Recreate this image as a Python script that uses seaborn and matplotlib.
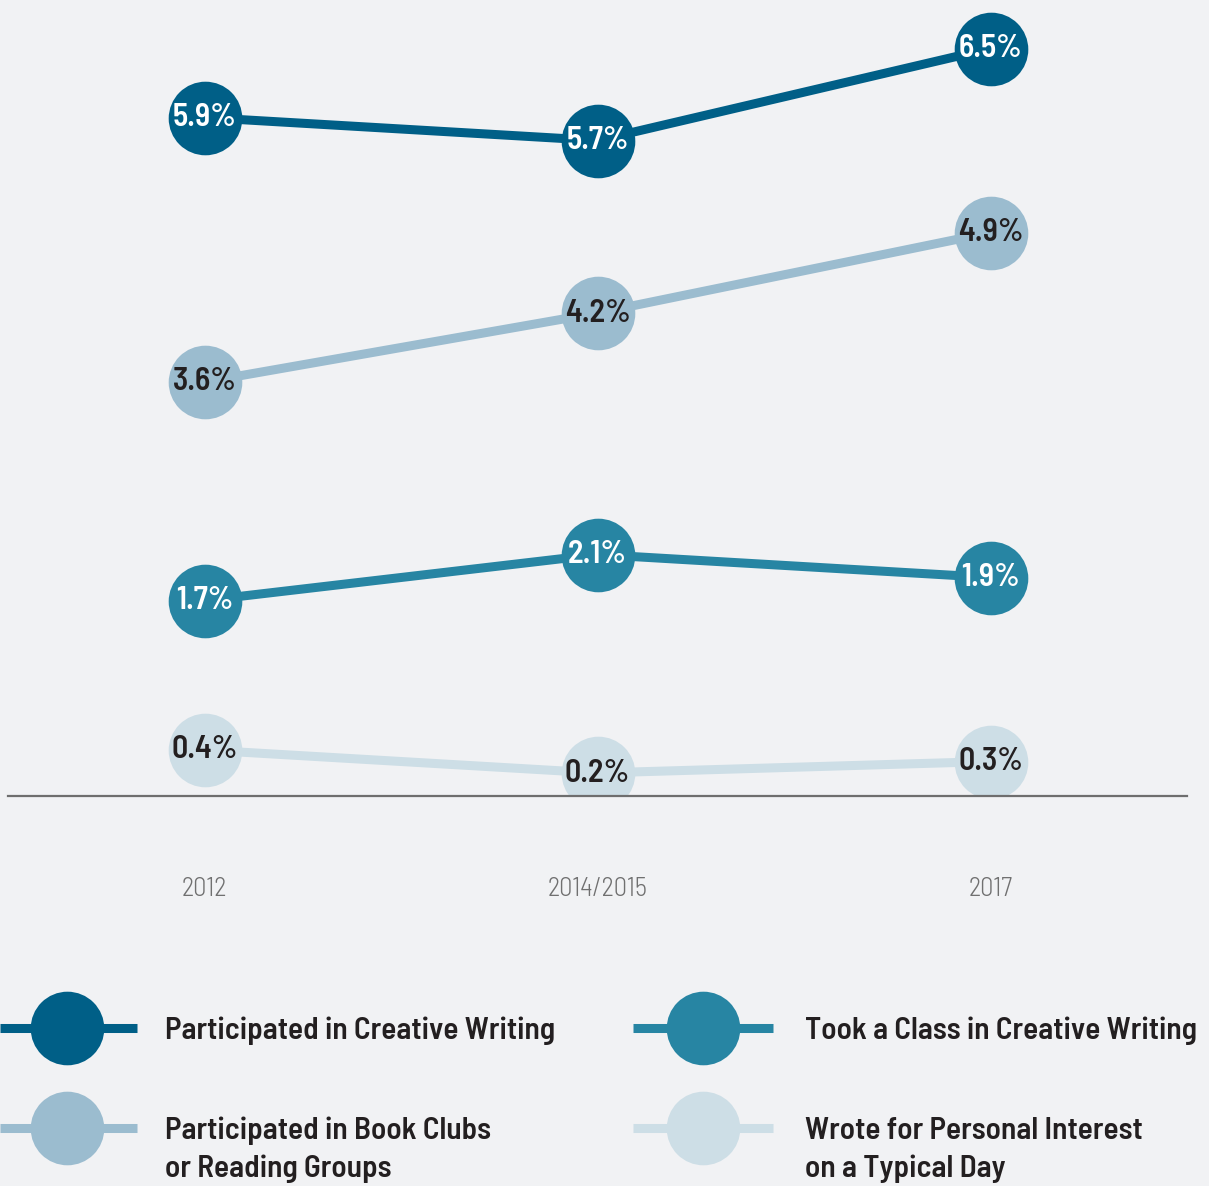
import matplotlib
matplotlib.use("Agg")
import matplotlib.pyplot as plt
import seaborn as sns
import pandas as pd

# Survey years and share of adults (%) for each activity
years = ["2012", "2014/2015", "2017"]
creative_writing = [5.9, 5.7, 6.5]
book_clubs = [3.6, 4.2, 4.9]
writing_class = [1.7, 2.1, 1.9]
personal_writing = [0.4, 0.2, 0.3]

series_names = [
    "Participated in Creative Writing",
    "Participated in Book Clubs\nor Reading Groups",
    "Took a Class in Creative Writing",
    "Wrote for Personal Interest\non a Typical Day",
]
series_values = [creative_writing, book_clubs, writing_class, personal_writing]
series_colors = ["#005f87", "#9bbccf", "#2785a3", "#cddee6"]
label_colors = ["white", "#231f20", "white", "#231f20"]

sns.set_theme(style="white")
plt.rcParams["font.family"] = ["Barlow Semi Condensed", "DejaVu Sans"]

bg = "#f1f2f4"
W, H = 1209, 1186
fig = plt.figure(figsize=(W / 100, H / 100), dpi=100, facecolor=bg)

# main plotting area: baseline (value 0) sits at y=796 px, 115 px per percentage point
ax = fig.add_axes([8 / W, (H - 796) / H, 1179 / W, 796 / H])
ax.set_facecolor(bg)

rows = []
for name, vals in zip(series_names, series_values):
    for i, (yr, v) in enumerate(zip(years, vals)):
        rows.append({"series": name, "x": i, "year": yr, "value": v})
df = pd.DataFrame(rows)

for name, color in zip(series_names, series_colors):
    sub = df[df["series"] == name]
    sns.lineplot(data=sub, x="x", y="value", ax=ax, color=color, linewidth=6.5,
                 marker="o", markersize=53, markeredgewidth=0, legend=False)

for name, vals, tc in zip(series_names, series_values, label_colors):
    for i, v in enumerate(vals):
        ax.text(i, v, f"{v:.1f}%", ha="center", va="center", color=tc,
                fontsize=23, fontweight=600)

ax.set_xlim(-0.5, 2.5)
ax.set_ylim(0, 796 / 115)
ax.set_xticks(range(len(years)))
ax.set_xticklabels(years, color="#707070", fontsize=19, fontweight=300)
ax.tick_params(axis="x", length=0, pad=58)
ax.set_yticks([])
ax.set_xlabel("")
ax.set_ylabel("")
for s in ["top", "right", "left"]:
    ax.spines[s].set_visible(False)
ax.spines["bottom"].set_color("#6e6e6e")
ax.spines["bottom"].set_linewidth(1.6)

# legend drawn in pixel space below the chart
lax = fig.add_axes([0, 0, 1, 1], facecolor="none")
lax.set_xlim(0, W)
lax.set_ylim(H, 0)
lax.axis("off")
legend_slots = [(0, 137, 67, 165, 1028), (0, 137, 67, 165, 1128),
                (633, 773, 703, 805, 1028), (633, 773, 703, 805, 1128)]
for (x0, x1, xm, xt, y), name, color in zip(legend_slots, series_names, series_colors):
    lax.plot([x0, x1], [y, y], color=color, linewidth=6.5, solid_capstyle="butt")
    lax.plot([xm], [y], "o", color=color, markersize=53, markeredgewidth=0)
    for k, line in enumerate(name.split("\n")):
        lax.text(xt, y + 11 + k * 38, line, ha="left", va="baseline", fontsize=22.5,
                 fontweight=600, color="#231f20")

fig.savefig("out.png", dpi=100, facecolor=bg)
